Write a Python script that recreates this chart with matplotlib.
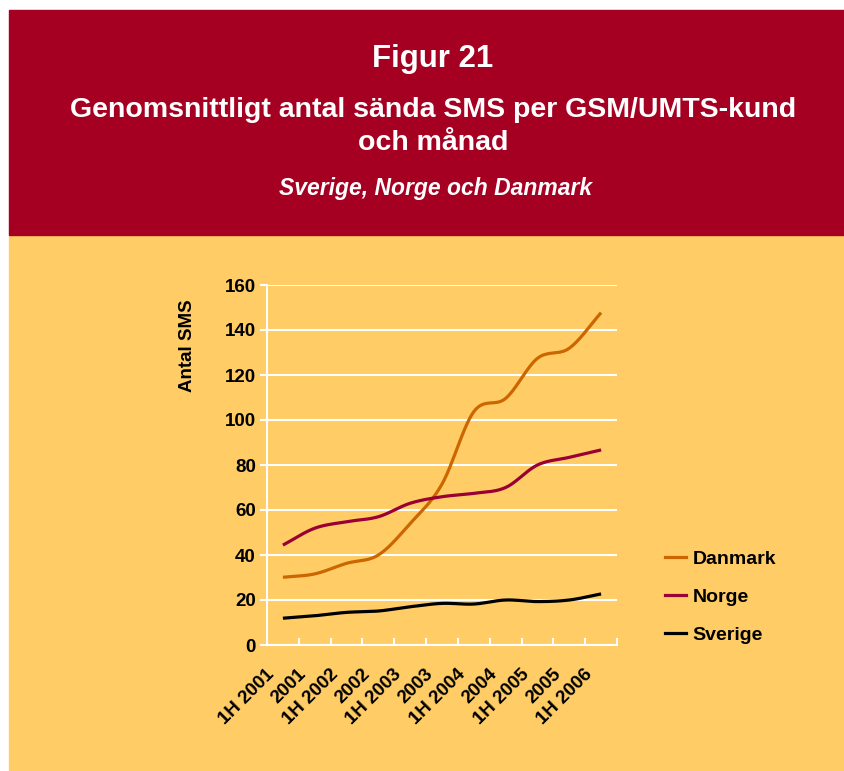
import numpy as np
import matplotlib
matplotlib.use("Agg")
import matplotlib.pyplot as plt
import matplotlib.transforms as mtransforms
from matplotlib.patches import Rectangle
from matplotlib.lines import Line2D

categories = ["1H 2001", "2001", "1H 2002", "2002", "1H 2003", "2003",
              "1H 2004", "2004", "1H 2005", "2005", "1H 2006"]
danmark = [30.1, 31.6, 36.3, 40.0, 54.0, 71.5, 103.7, 109.6, 127.4, 131.9, 147.7]
norge = [44.4, 51.9, 54.8, 57.0, 63.0, 65.9, 67.4, 70.0, 80.0, 83.4, 86.7]
sverige = [11.9, 13.0, 14.5, 15.1, 17.0, 18.5, 18.2, 20.0, 19.3, 20.0, 22.7]
yticks = [0, 20, 40, 60, 80, 100, 120, 140, 160]

plt.rcParams['font.family'] = ['Liberation Sans', 'DejaVu Sans']

RED = "#A50021"
YELLOW = "#FFCC66"
C_DK = "#CC6600"
C_NO = "#990033"
C_SE = "#000000"


def smooth(x, y, n=20):
    x = np.asarray(x, float)
    y = np.asarray(y, float)
    px = np.concatenate([[2 * x[0] - x[1]], x, [2 * x[-1] - x[-2]]])
    py = np.concatenate([[2 * y[0] - y[1]], y, [2 * y[-1] - y[-2]]])
    xs, ys = [], []
    for i in range(1, len(px) - 2):
        t = np.linspace(0, 1, n, endpoint=(i == len(px) - 3))
        for arr, out in ((px, xs), (py, ys)):
            p0, p1, p2, p3 = arr[i - 1], arr[i], arr[i + 1], arr[i + 2]
            out.extend(0.5 * ((2 * p1) + (-p0 + p2) * t +
                              (2 * p0 - 5 * p1 + 4 * p2 - p3) * t ** 2 +
                              (-p0 + 3 * p1 - 3 * p2 + p3) * t ** 3))
    return np.array(xs), np.array(ys)


W, H = 845, 771
fig = plt.figure(figsize=(W / 100, H / 100), dpi=100)
fig.patch.set_facecolor("white")

# background panels
fig.add_artist(Rectangle((9 / W, 0), 1 - 9 / W, 1 - 235 / H,
                         transform=fig.transFigure, color=YELLOW, zorder=0))
fig.add_artist(Rectangle((9 / W, 1 - 235 / H), 1 - 9 / W, (235 - 10) / H,
                         transform=fig.transFigure, color=RED, zorder=0))

cx = 433 / W
fig.text(cx, 1 - 59 / H, "Figur 21", color="white", fontsize=22.5,
         fontweight="bold", ha="center", va="center")
fig.text(cx, 1 - 110 / H, "Genomsnittligt antal sända SMS per GSM/UMTS-kund",
         color="white", fontsize=20.5, fontweight="bold", ha="center", va="center")
fig.text(cx, 1 - 143 / H, "och månad",
         color="white", fontsize=20.5, fontweight="bold", ha="center", va="center")
fig.text(436 / W, 1 - 189 / H, "Sverige, Norge och Danmark",
         color="white", fontsize=16.5, fontweight="bold", style="italic",
         ha="center", va="center")

ax = fig.add_axes([267 / W, 1 - 645 / H, (617 - 267) / W, (645 - 285) / H])
ax.set_facecolor("none")

x = np.arange(len(categories))
for vals, col, lab in ((danmark, C_DK, "Danmark"), (norge, C_NO, "Norge"),
                       (sverige, C_SE, "Sverige")):
    sx, sy = smooth(x, vals)
    ax.plot(sx, sy, color=col, lw=2.3, solid_capstyle="butt", zorder=3, label=lab)

ax.set_xlim(-0.5, len(categories) - 0.5)
ax.set_ylim(0, 160)
ax.set_yticks(yticks)
ax.set_yticklabels([str(v) for v in yticks], fontsize=13.5, fontweight="bold")
ax.yaxis.grid(True, color="white", lw=1.5)
ax.set_axisbelow(True)

ax.set_xticks(np.arange(len(categories) + 1) - 0.5)
ax.set_xticklabels([])
ax.set_xticks(x, minor=True)
ax.set_xticklabels(categories, minor=True, rotation=45, ha="right",
                   rotation_mode="anchor", fontsize=13.5, fontweight="bold")
ax.tick_params(axis="x", which="minor", length=0, pad=15)
ax.tick_params(axis="x", which="major", length=5, width=1.5, color="white", direction="in")
ax.tick_params(axis="y", length=5, width=1.5, color="white", direction="out", pad=3)
off = mtransforms.ScaledTranslation(-17 / 100, 0, fig.dpi_scale_trans)
for lbl in ax.get_xticklabels(minor=True):
    lbl.set_transform(lbl.get_transform() + off)

for s in ("top", "right"):
    ax.spines[s].set_visible(False)
for s in ("left", "bottom"):
    ax.spines[s].set_color("white")
    ax.spines[s].set_linewidth(1.5)

fig.text(188 / W, 1 - 346 / H, "Antal SMS", rotation=90, fontsize=13.5,
         fontweight="bold", ha="center", va="center")

handles = [Line2D([], [], color=c, lw=2.3) for c in (C_DK, C_NO, C_SE)]
fig.legend(handles, ["Danmark", "Norge", "Sverige"], loc="upper left",
           bbox_to_anchor=(647 / W, 1 - 533 / H), frameon=False,
           prop={"weight": "bold", "size": 14}, handlelength=1.13,
           handletextpad=0.3, labelspacing=1.05)

fig.savefig("out.png", dpi=100, facecolor=fig.get_facecolor())
